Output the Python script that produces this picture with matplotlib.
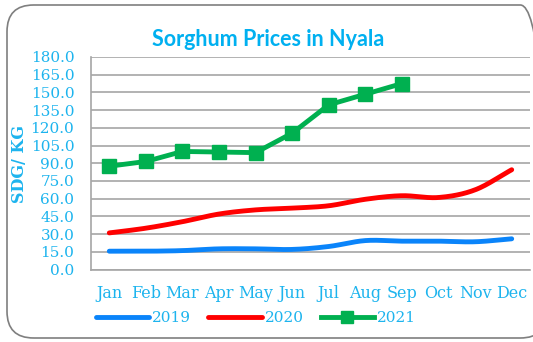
import numpy as np
import matplotlib
matplotlib.use("Agg")
import matplotlib.pyplot as plt
from matplotlib.patches import FancyBboxPatch
from matplotlib.lines import Line2D

months = ["Jan", "Feb", "Mar", "Apr", "May", "Jun", "Jul", "Aug", "Sep", "Oct", "Nov", "Dec"]
prices_2019 = [15.5, 15.5, 16.0, 17.5, 17.5, 17.0, 19.5, 24.5, 24.0, 24.0, 23.5, 26.0]
prices_2020 = [31.0, 35.0, 40.5, 47.0, 50.5, 52.0, 54.0, 59.5, 62.5, 61.0, 67.5, 84.5]
prices_2021 = [87.5, 91.5, 100.0, 99.5, 99.0, 115.5, 139.5, 148.5, 157.5]
y_ticks = np.arange(0, 181, 15)

BLUE_TXT = "#1DB4EE"
C19, C20, C21 = "#0A84FA", "#FF0000", "#00B050"
SERIF = ["DejaVu Serif"]


def smooth(xs, ys, n=30):
    """Catmull-Rom curve through the points, like a smoothed spreadsheet line."""
    xs = np.asarray(xs, float)
    ys = np.asarray(ys, float)
    px = np.concatenate([[2 * xs[0] - xs[1]], xs, [2 * xs[-1] - xs[-2]]])
    py = np.concatenate([[2 * ys[0] - ys[1]], ys, [2 * ys[-1] - ys[-2]]])
    out_x, out_y = [], []
    t = np.linspace(0, 1, n, endpoint=False)
    for i in range(1, len(px) - 2):
        for arr, out in ((px, out_x), (py, out_y)):
            p0, p1, p2, p3 = arr[i - 1], arr[i], arr[i + 1], arr[i + 2]
            out.extend(0.5 * ((2 * p1) + (-p0 + p2) * t
                              + (2 * p0 - 5 * p1 + 4 * p2 - p3) * t ** 2
                              + (-p0 + 3 * p1 - 3 * p2 + p3) * t ** 3))
    out_x.append(xs[-1])
    out_y.append(ys[-1])
    return np.array(out_x), np.array(out_y)


fig = plt.figure(figsize=(5.33, 3.42), dpi=100)
fig.patch.set_facecolor("white")

frame = FancyBboxPatch((7 / 533, 4 / 342), 540 / 533, 333 / 342,
                       boxstyle="round,pad=0,rounding_size=0.05",
                       transform=fig.transFigure, facecolor="none",
                       edgecolor="#7F7F7F", linewidth=1.2, mutation_aspect=533 / 342)
fig.patches.append(frame)

ax = fig.add_axes([91 / 533, 1 - 269.5 / 342, (530 - 91) / 533, (269.5 - 57) / 342])
ax.set_facecolor("none")

x = np.arange(len(months))
sx, sy = smooth(x, prices_2019)
ax.plot(sx, sy, color=C19, lw=3.5, solid_capstyle="round", zorder=3)
sx, sy = smooth(x, prices_2020)
ax.plot(sx, sy, color=C20, lw=3.5, solid_capstyle="round", zorder=3)
ax.plot(x[:len(prices_2021)], prices_2021, color=C21, lw=3.5, marker="s",
        markersize=10, zorder=4)

ax.set_xlim(-0.5, 11.5)
ax.set_ylim(0, 180)
ax.set_yticks(y_ticks)
ax.set_yticklabels([f"{v:.1f}" for v in y_ticks])
ax.set_xticks(x)
ax.set_xticklabels(months)
ax.grid(axis="y", color="#A6A6A6", lw=1.2)
ax.set_axisbelow(True)
for side in ("top", "right"):
    ax.spines[side].set_visible(False)
for side in ("left", "bottom"):
    ax.spines[side].set_color("#A6A6A6")
    ax.spines[side].set_linewidth(1.2)
ax.xaxis.set_tick_params(which="major", length=0, pad=11, labelsize=11.5,
                         labelcolor=BLUE_TXT)
ax.yaxis.set_tick_params(which="major", length=0, pad=12, labelsize=11,
                         labelcolor=BLUE_TXT)
for lab in ax.get_xticklabels() + ax.get_yticklabels():
    lab.set_family(SERIF)

fig.text(20 / 533, 1 - 164 / 342, "SDG/ KG", rotation=90, ha="center", va="center",
         color=BLUE_TXT, fontsize=11.5, fontweight="bold", family=SERIF)
fig.text(268 / 533, 1 - 39 / 342, "Sorghum Prices in Nyala", ha="center", va="center",
         color="#00B0F0", fontsize=15.5, fontweight="bold", family=["Lato"])

handles = [Line2D([], [], color=C19, lw=3.5, solid_capstyle="round"),
           Line2D([], [], color=C20, lw=3.5, solid_capstyle="round"),
           Line2D([], [], color=C21, lw=3.5, marker="s", markersize=8)]
leg = fig.legend(handles, ["2019", "2020", "2021"], loc="center",
                 bbox_to_anchor=(256 / 533, 1 - 318 / 342), ncol=3, frameon=False,
                 handlelength=3.5, handletextpad=0.2, columnspacing=1.1,
                 prop={"family": SERIF, "size": 11})
for t in leg.get_texts():
    t.set_color(BLUE_TXT)

fig.savefig("out.png", dpi=100, facecolor="white")
